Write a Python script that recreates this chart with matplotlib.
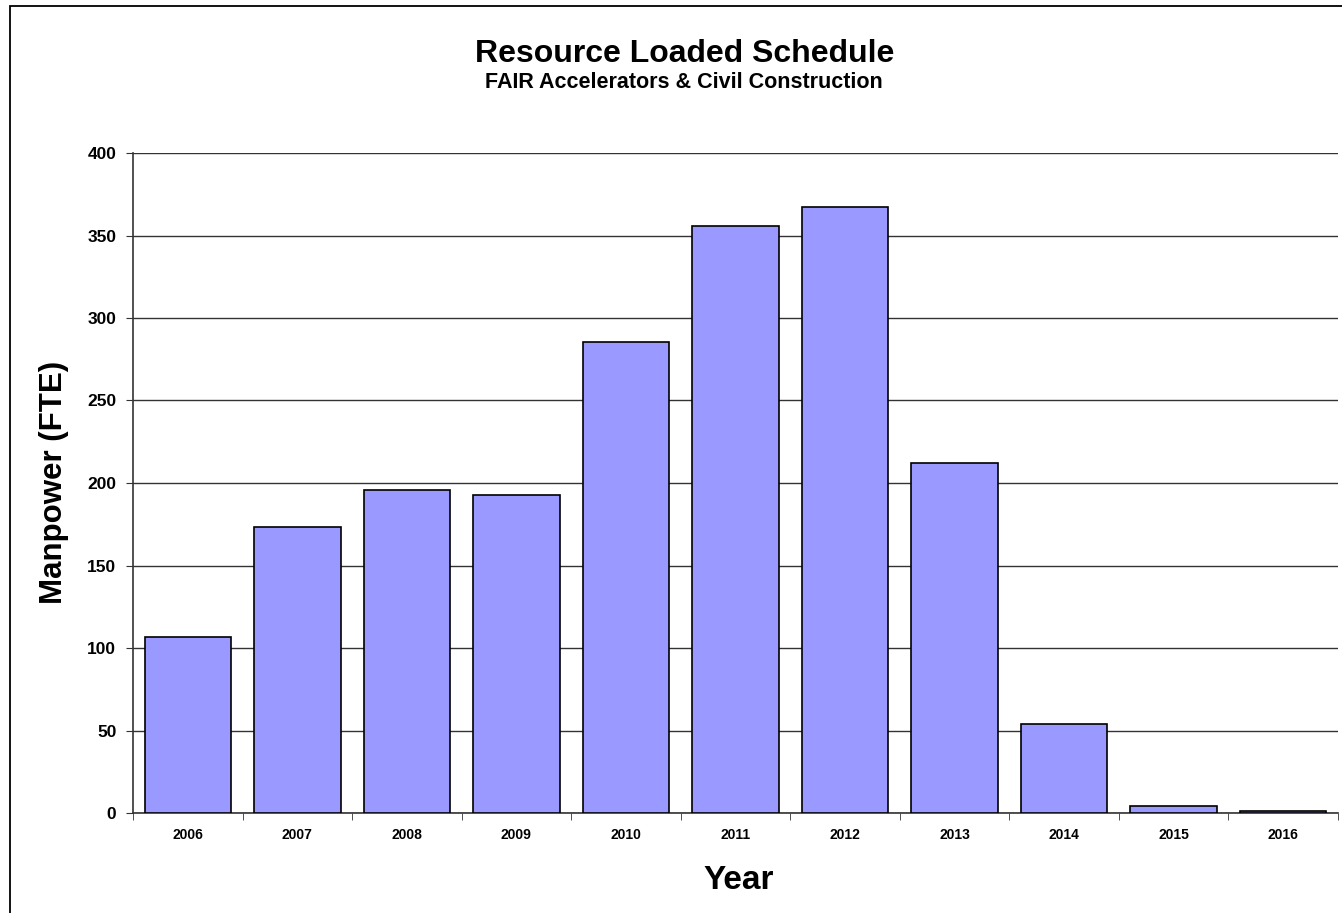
import matplotlib.pyplot as plt
from matplotlib.patches import Rectangle
import numpy as np

plt.rcParams['font.family'] = ['Liberation Sans', 'DejaVu Sans']

years = ["2006", "2007", "2008", "2009", "2010", "2011", "2012", "2013", "2014", "2015", "2016"]
manpower = [106.5, 173.5, 195.5, 193, 285.5, 356, 367, 212, 54, 4, 1]

title = "Resource Loaded Schedule"
subtitle = "FAIR Accelerators & Civil Construction"
xlab = "Year"
ylab = "Manpower (FTE)"

W, H = 1342, 913
fig = plt.figure(figsize=(W / 100, H / 100), dpi=100)
ax = fig.add_axes([133 / W, 100 / H, 1205 / W, 660 / H])

x = np.arange(len(years))
ax.bar(x, manpower, width=0.79, color="#9999FF", edgecolor="black", linewidth=1.2, zorder=3)

ax.set_xlim(-0.5, len(years) - 0.5)
ax.set_ylim(0, 400)
ax.set_yticks(np.arange(0, 401, 50))
ax.grid(axis="y", color="#333333", linewidth=1, zorder=0)

ax.set_xticks(x)
ax.set_xticklabels(years, fontsize=10, fontweight="bold")
ax.set_xticks(np.arange(-0.5, len(years) - 0.4, 1), minor=True)
ax.tick_params(axis="x", which="major", length=0, pad=11)
ax.tick_params(axis="x", which="minor", length=5, direction="out", color="#333333")
ax.tick_params(axis="y", length=5, direction="out", color="#333333", labelsize=12.5, pad=7)
for lbl in ax.get_yticklabels():
    lbl.set_fontweight("bold")

for side in ["top", "right"]:
    ax.spines[side].set_visible(False)
for side in ["left", "bottom"]:
    ax.spines[side].set_color("#333333")
    ax.spines[side].set_linewidth(1.2)

# axis titles placed like the original (pixel positions from the picture)
fig.text(739 / W, 1 - 889 / H, xlab, ha="center", va="baseline", fontsize=24, fontweight="bold")
fig.text(54 / W, 1 - 482 / H, ylab, ha="center", va="center", rotation=90,
         fontsize=22.5, fontweight="bold")

fig.text(685 / W, 1 - 62 / H, title, ha="center", va="baseline", fontsize=23, fontweight="bold")
fig.text(684 / W, 1 - 88 / H, subtitle, ha="center", va="baseline", fontsize=15.5, fontweight="bold")

# outer chart frame (right/bottom edges fall off the picture)
fig.patches.append(Rectangle((9.5 / W, -0.05), 1.2, 1 - 6 / H + 0.05,
                             transform=fig.transFigure, fill=False,
                             edgecolor="black", linewidth=1.3))

plt.savefig("out.png", dpi=100)
